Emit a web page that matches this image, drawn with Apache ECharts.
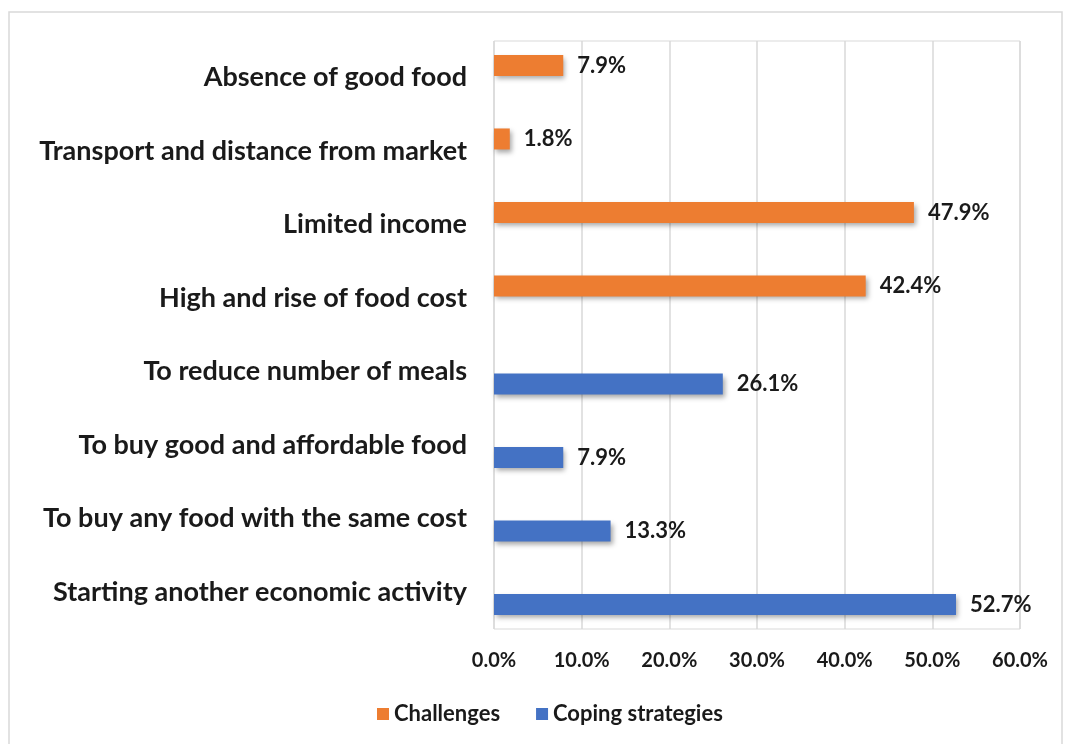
<!DOCTYPE html>
<html>
<head>
<meta charset="utf-8">
<script src="https://cdn.jsdelivr.net/npm/echarts@6/dist/echarts.min.js"></script>
<style>
 html,body{margin:0;padding:0;background:#fff;}
 #main{width:1065px;height:744px;}
</style>
</head>
<body>
<div id="main"></div>
<script>
// categories listed top to bottom
var categories=['Absence of good food','Transport and distance from market','Limited income','High and rise of food cost','To reduce number of meals','To buy good and affordable food','To buy any food with the same cost','Starting another economic activity'];
var challenges=[7.9,1.8,47.9,42.4,null,null,null,null];
var coping=[null,null,null,null,26.1,7.9,13.3,52.7];
var xTicks=[0,10,20,30,40,50,60];

var font='Lato';
var myChart=echarts.init(document.getElementById('main'));

function pct(v){return v.toFixed(1)+'%';}

var barLabel={show:true,position:'right',distance:14,fontFamily:font,fontWeight:'bold',fontSize:22,color:'#1a1a1a',
  formatter:function(p){return pct(p.value);}};

var option={
  animation:false,
  graphic:[{type:'rect',shape:{x:9,y:12,width:1053,height:740},style:{fill:'none',stroke:'#d9d9d9',lineWidth:1.5},silent:true}],
  grid:{left:494,right:45,top:41,bottom:115,show:true,borderColor:'#d9d9d9',borderWidth:1},
  legend:{bottom:14,left:372,itemWidth:12,itemHeight:12,itemGap:36,icon:'rect',
    data:['Challenges','Coping strategies'],
    textStyle:{fontFamily:font,fontWeight:'bold',fontSize:22,color:'#1a1a1a'}},
  xAxis:{type:'value',min:xTicks[0],max:xTicks[xTicks.length-1],interval:10,
    axisLine:{show:false},axisTick:{show:false},
    splitLine:{lineStyle:{color:'#d9d9d9',width:1.5}},
    axisLabel:{margin:22,fontFamily:font,fontWeight:'bold',fontSize:20,color:'#1a1a1a',formatter:function(v){return pct(v);}}},
  yAxis:{type:'category',data:categories,inverse:true,
    axisLine:{show:false},axisTick:{show:false},
    axisLabel:{margin:27,fontFamily:font,fontWeight:'bold',fontSize:27,color:'#1a1a1a'}},
  series:[
    {name:'Challenges',type:'bar',data:challenges,barCategoryGap:'38%',barGap:'17%',
      itemStyle:{color:'#ED7D31',shadowColor:'rgba(0,0,0,0.35)',shadowBlur:5,shadowOffsetX:2,shadowOffsetY:3},
      label:barLabel},
    {name:'Coping strategies',type:'bar',data:coping,barCategoryGap:'38%',barGap:'17%',
      itemStyle:{color:'#4472C4',shadowColor:'rgba(0,0,0,0.35)',shadowBlur:5,shadowOffsetX:2,shadowOffsetY:3},
      label:barLabel}
  ]
};
myChart.setOption(option);
</script>
</body>
</html>
